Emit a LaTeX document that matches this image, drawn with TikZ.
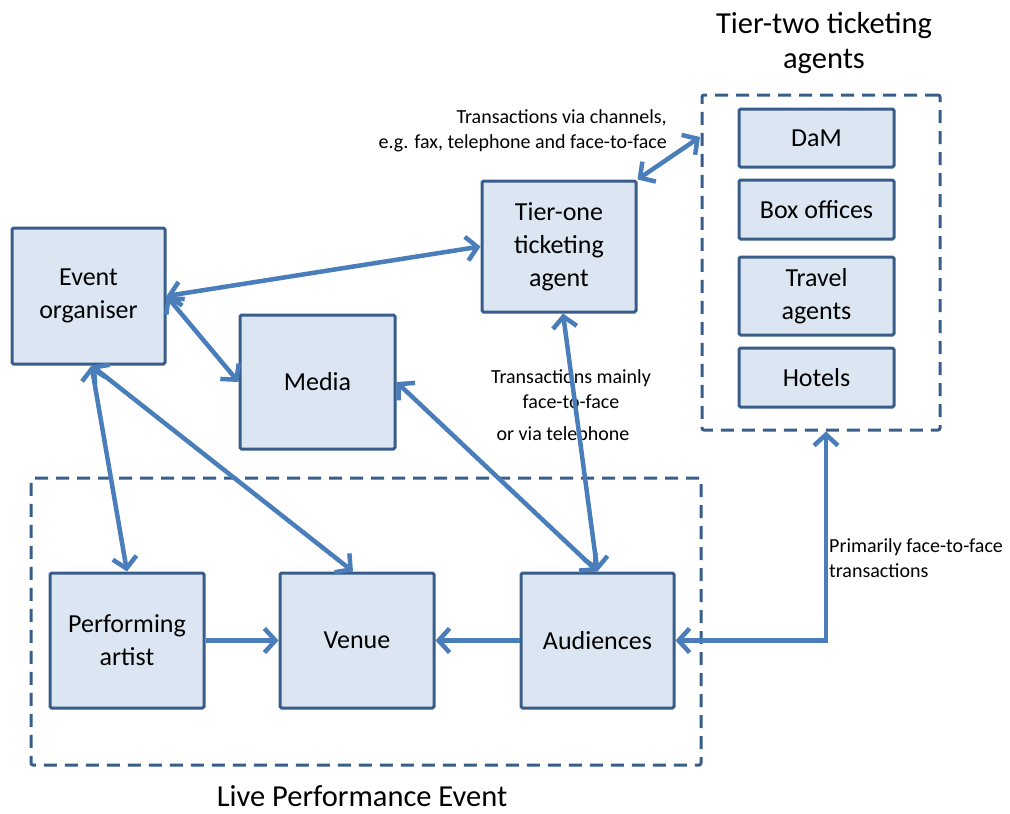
\documentclass[tikz,border=0pt]{standalone}
\usepackage{fontspec}
\setmainfont{Carlito}
\usetikzlibrary{arrows.meta,positioning}
\definecolor{boxfill}{RGB}{220,230,242}
\definecolor{boxline}{RGB}{56,93,138}
\definecolor{arrowblue}{RGB}{74,126,187}

\begin{document}
\begin{tikzpicture}[x=1pt,y=-1pt]
\tikzset{
  actor/.style={rectangle,draw=boxline,fill=boxfill,line width=3pt,rounded corners=1.5pt,align=center,inner sep=2pt,font=\fontsize{26}{33}\selectfont},
  agent/.style={actor,minimum width=155pt},
  group/.style={rectangle,draw=boxline,line width=3pt,dash pattern=on 13pt off 8pt,rounded corners=2pt},
  link/.style={{Straight Barb[length=11pt,width=24pt]}-{Straight Barb[length=11pt,width=24pt]},draw=arrowblue,line width=4.5pt},
  oneway/.style={-{Straight Barb[length=11pt,width=24pt]},draw=arrowblue,line width=4.5pt},
  note/.style={font=\fontsize{20}{25}\selectfont,inner sep=0pt},
  caption/.style={font=\fontsize{30.5}{35}\selectfont,align=center,inner sep=0pt}
}
\useasboundingbox (0,0) rectangle (1010,814);
\node[group,minimum width=238pt,minimum height=335pt] (n_tiertwo) at (821,262.5) {};
\node[group,minimum width=670pt,minimum height=287pt] (n_live) at (366,621.5) {};
\node[actor,minimum width=153pt,minimum height=136pt] (n_org) at (88.5,296) {Event\\organiser};
\node[actor,minimum width=154pt,minimum height=131pt] (n_tier1) at (559,246.5) {Tier-one\\ticketing\\agent};
\node[actor,minimum width=155pt,minimum height=134pt] (n_media) at (317.5,382) {Media};
\node[agent,minimum height=58pt] (n_dam) at (816.5,138) {DaM};
\node[agent,minimum height=59pt] (n_boxoff) at (816.5,209.5) {Box offices};
\node[agent,minimum height=78pt] (n_travel) at (816.5,296) {Travel\\agents};
\node[agent,minimum height=59pt] (n_hotels) at (816.5,377.5) {Hotels};
\node[actor,minimum width=154pt,minimum height=135pt] (n_artist) at (127,640.5) {Performing\\artist};
\node[actor,minimum width=154pt,minimum height=135pt] (n_venue) at (357,640.5) {Venue};
\node[actor,minimum width=153pt,minimum height=135pt] (n_aud) at (597.5,640.5) {Audiences};
\node[caption] (t_tiertwo) at (824,43) {Tier-two ticketing\\agents};
\node[caption] (t_live) at (362,796) {Live Performance Event};
\node[note,align=right,anchor=east] (l_chan) at (667,131) {Transactions via channels,\\e.g. fax, telephone and face-to-face};
\node[note,align=center] (l_main) at (571,389) {Transactions mainly\\face-to-face};
\node[note] (l_tel) at (563,435) {or via telephone};
\node[note,align=left,anchor=west] (l_prim) at (829,558) {Primarily face-to-face\\transactions};
\coordinate (c_tt) at (700,137);
\draw[link] (n_org.east) -- (n_tier1.west);
\draw[link] (n_org.east) -- (n_media.west);
\draw[link] ([xshift=3pt]n_org.south) -- (n_artist.north);
\draw[link] ([xshift=3pt]n_org.south) -- ([xshift=-4pt]n_venue.north);
\draw[link] (n_media.east) -- (n_aud.north);
\draw[link] ([xshift=4pt]n_tier1.south) -- (n_aud.north);
\draw[link] (n_tier1.north east) -- (c_tt);
\draw[oneway] (n_artist.east) -- (n_venue.west);
\draw[oneway] (n_aud.west) -- (n_venue.east);
\draw[link] (n_aud.east) -| ([xshift=5pt]n_tiertwo.south);
\end{tikzpicture}
\end{document}
